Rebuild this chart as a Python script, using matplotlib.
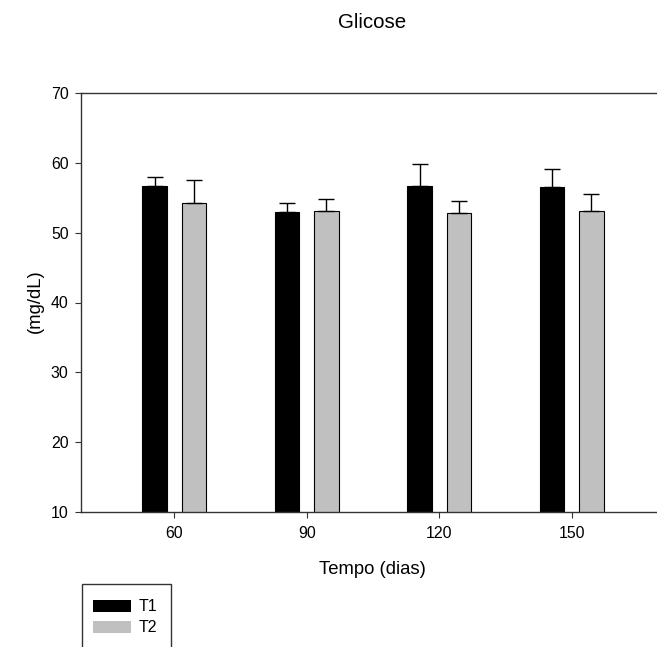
import matplotlib
matplotlib.use("Agg")
import matplotlib.pyplot as plt
from matplotlib.patches import Rectangle
import numpy as np

plt.rcParams['font.family'] = ['Liberation Sans', 'DejaVu Sans']

categories = ["60", "90", "120", "150"]
t1_values = [56.7, 53.0, 56.7, 56.6]
t1_err = [1.2, 1.2, 3.2, 2.5]
t2_values = [54.3, 53.05, 52.8, 53.1]
t2_err = [3.2, 1.75, 1.8, 2.5]
series_names = ["T1", "T2"]
series_colors = ["black", "#c0c0c0"]
title = "Glicose"
xlabel = "Tempo (dias)"
ylabel = "(mg/dL)"

W, H = 657, 647
fig = plt.figure(figsize=(W/100, H/100), dpi=100)
ax = fig.add_axes([81/W, 1-512/H, 1-81/W, (512-93)/H])

x = np.arange(len(categories))
bw = 0.185
off = 0.148
ekw = dict(elinewidth=1.0, capthick=1.0, ecolor='black')
ax.bar(x-off, t1_values, bw, bottom=0, color=series_colors[0], edgecolor='black', linewidth=0.8,
       yerr=[np.zeros(len(x)), t1_err], capsize=5.5, error_kw=ekw, zorder=2)
ax.bar(x+off, t2_values, bw, bottom=0, color=series_colors[1], edgecolor='black', linewidth=0.8,
       yerr=[np.zeros(len(x)), t2_err], capsize=5.5, error_kw=ekw, zorder=2)

ax.set_ylim(10, 70)
ax.set_xlim(-0.704, 3.643)
ax.set_xticks(x)
ax.set_xticklabels(categories)
ax.set_yticks(np.arange(10, 71, 10))
ax.spines['right'].set_visible(False)
for s in ['left', 'bottom', 'top']:
    ax.spines[s].set_linewidth(1.0)
    ax.spines[s].set_color('#333333')
ax.tick_params(axis='both', direction='out', length=4, width=0.8, labelsize=11.4,
               colors='#333333', labelcolor='black')
ax.tick_params(axis='x', pad=6)
ax.tick_params(axis='y', pad=5)

def px(xp, yp):
    return xp/W, 1-yp/H

fig.text(*px(372.8, 574.3), xlabel, ha='center', va='baseline', fontsize=13.3)
fig.text(*px(35, 301.5), ylabel, ha='center', va='center', rotation=90, fontsize=13.3)
fig.text(*px(372.5, 28.3), title, ha='center', va='baseline', fontsize=14.8)

# legend (drawn in figure pixel coordinates)
fig.patches.append(Rectangle((81.5/W, -0.05), (171-81.5)/W, 0.05 + (1-584/H), transform=fig.transFigure,
                             facecolor='white', edgecolor='#333333', linewidth=1.0))
leg_y = [(600, 612.3), (620.7, 632.7)]
for name, col, (y0, y1) in zip(series_names, series_colors, leg_y):
    fig.patches.append(Rectangle(px(92.7, y1), 38/W, (y1-y0)/H, transform=fig.transFigure,
                                 facecolor=col, edgecolor=col, linewidth=0))
    fig.text(*px(138.3, (y0+y1)/2+0.5), name, ha='left', va='center', fontsize=11.4)

fig.savefig("out.png", dpi=100)
